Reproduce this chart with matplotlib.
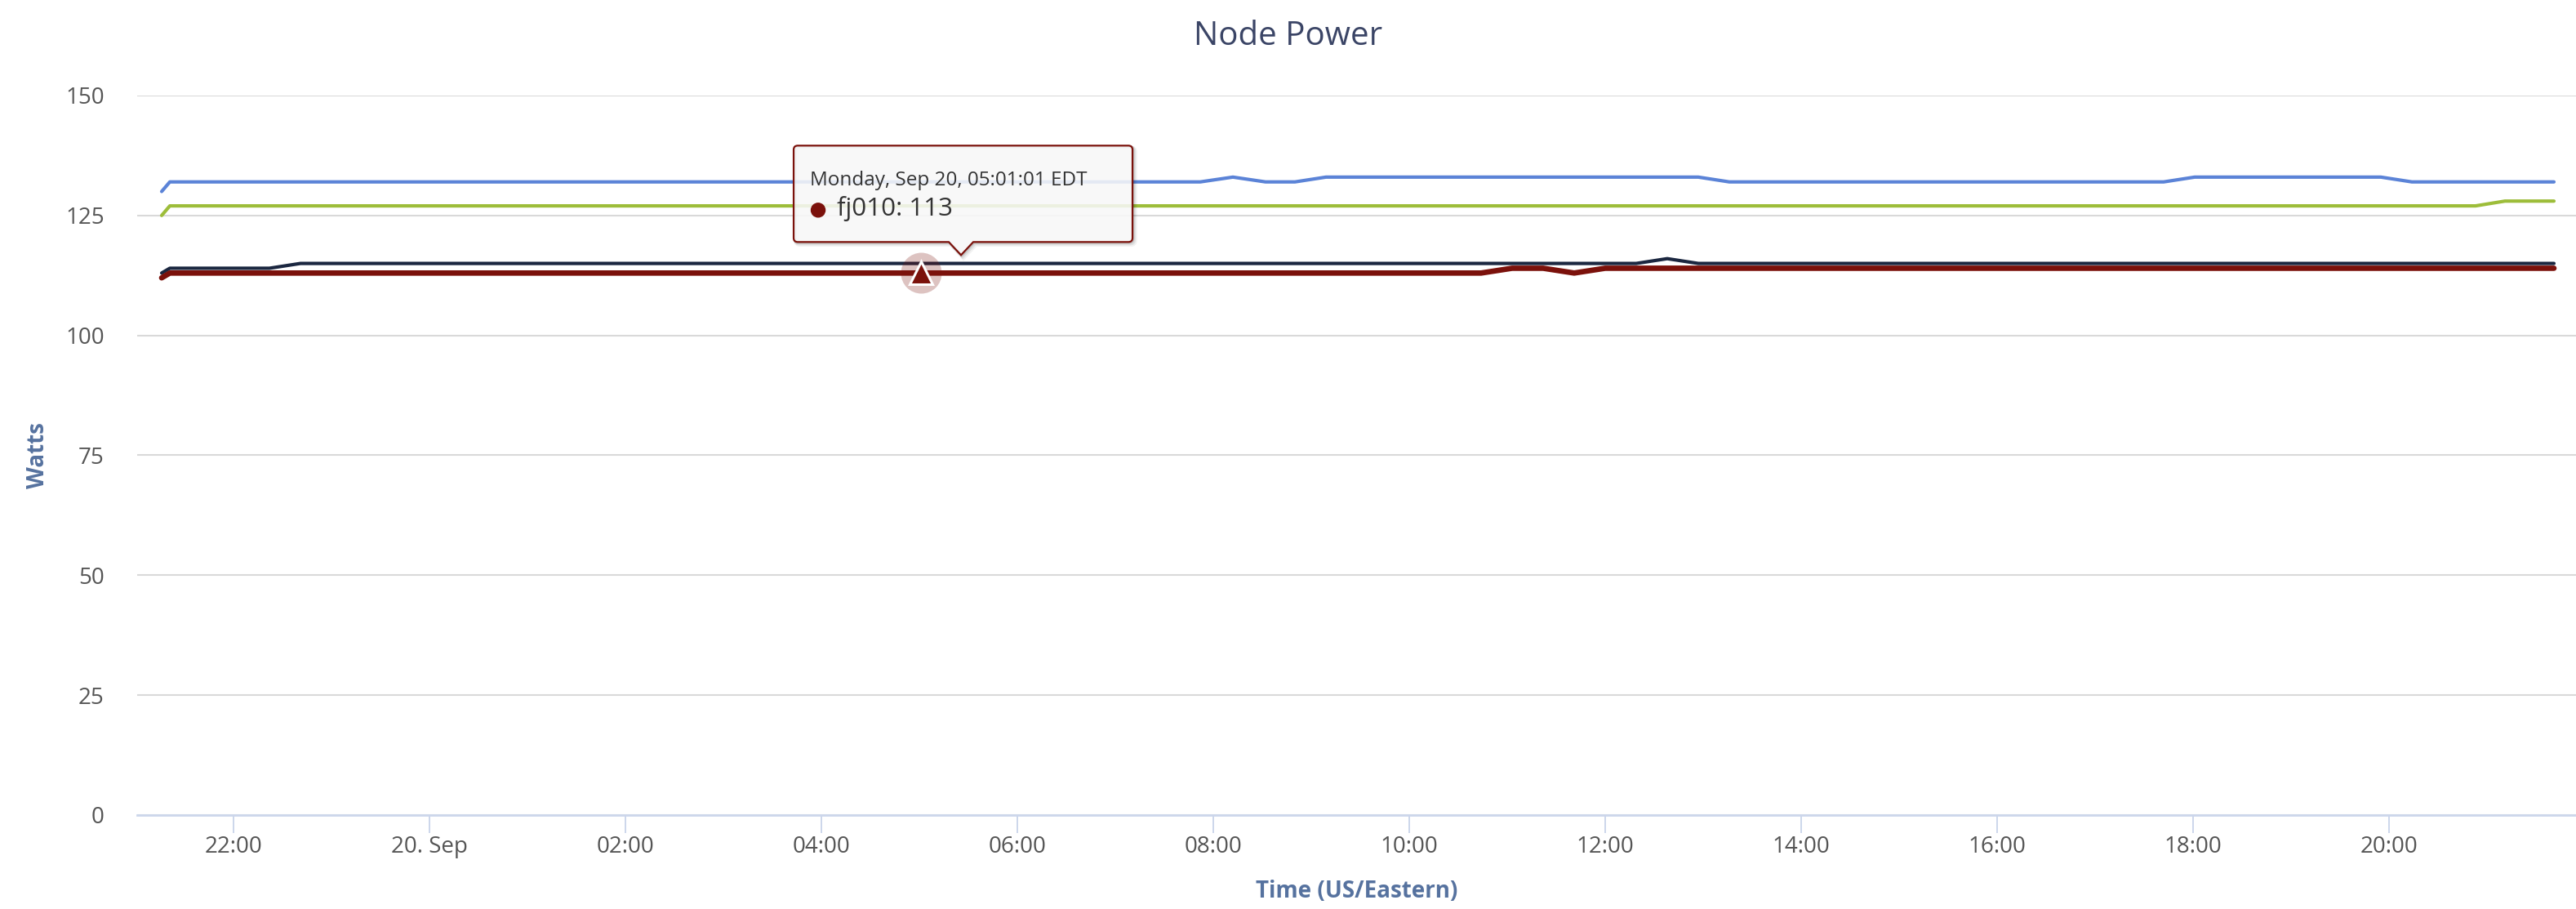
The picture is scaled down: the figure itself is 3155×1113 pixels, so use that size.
import datetime as dt
import matplotlib
matplotlib.use("Agg")
import matplotlib.pyplot as plt
import matplotlib.dates as mdates
from matplotlib.path import Path
from matplotlib.patches import PathPatch, Circle
from matplotlib.transforms import IdentityTransform, Affine2D

plt.rcParams['font.family'] = ['Open Sans', 'DejaVu Sans']

# ---------------- data (breakpoints) ----------------
D0 = dt.datetime(2021, 9, 19)
D1 = dt.datetime(2021, 9, 20)

def T(day, hm):
    h, m = hm.split(":")
    return day.replace(hour=int(h), minute=int(m))

blue_times = [T(D0, "21:16"), T(D0, "21:21"), T(D1, "07:52"), T(D1, "08:12"), T(D1, "08:32"),
              T(D1, "08:50"), T(D1, "09:09"), T(D1, "12:57"), T(D1, "13:16"), T(D1, "17:42"),
              T(D1, "18:01"), T(D1, "19:55"), T(D1, "20:14"), T(D1, "21:41")]
blue_vals = [130, 132, 132, 133, 132, 132, 133, 133, 132, 132, 133, 133, 132, 132]

green_times = [T(D0, "21:16"), T(D0, "21:21"), T(D1, "20:53"), T(D1, "21:11"), T(D1, "21:41")]
green_vals = [125, 127, 127, 128, 128]

navy_times = [T(D0, "21:16"), T(D0, "21:21"), T(D0, "22:22"), T(D0, "22:41"), T(D1, "12:19"),
              T(D1, "12:38"), T(D1, "12:57"), T(D1, "21:41")]
navy_vals = [113, 114, 114, 115, 115, 116, 115, 115]

red_times = [T(D0, "21:16"), T(D0, "21:21"), T(D1, "10:44"), T(D1, "11:03"), T(D1, "11:22"),
             T(D1, "11:41"), T(D1, "12:00"), T(D1, "21:41")]
red_vals = [112, 113, 113, 114, 114, 113, 114, 114]

tip_time = dt.datetime(2021, 9, 20, 5, 1, 1)
tip_value = 113
tip_series = "fj010"
tip_header = "Monday, Sep 20, 05:01:01 EDT"

tick_times = [T(D0, "22:00")] + [T(D1, "%02d:00" % h) for h in range(0, 21, 2)]
tick_labels = ["22:00", "20. Sep", "02:00", "04:00", "06:00", "08:00", "10:00",
               "12:00", "14:00", "16:00", "18:00", "20:00"]
y_ticks = [0, 25, 50, 75, 100, 125, 150]

x_start = dt.datetime(2021, 9, 19, 21, 1)
x_end = dt.datetime(2021, 9, 20, 21, 54, 30)

# ---------------- figure ----------------
W, H = 3155, 1113
fig = plt.figure(figsize=(W / 100, H / 100), dpi=100)
ax_l, ax_r, ax_b, ax_t = 168, 3155, 998, 117
ax = fig.add_axes([ax_l / W, (H - ax_b) / H, (ax_r - ax_l) / W, (ax_b - ax_t) / H])

C_BLUE = '#5b83d7'
C_GREEN = '#9dbd3a'
C_NAVY = '#1b2740'
C_RED = '#7b110b'

kw = dict(solid_capstyle='round', solid_joinstyle='round')
ax.plot(blue_times, blue_vals, color=C_BLUE, lw=3.0, zorder=3, **kw)
ax.plot(green_times, green_vals, color=C_GREEN, lw=3.0, zorder=3, **kw)
ax.plot(navy_times, navy_vals, color=C_NAVY, lw=3.0, zorder=3, **kw)
ax.plot(red_times, red_vals, color=C_RED, lw=4.8, zorder=4, **kw)

# hover marker
ax.plot([tip_time], [tip_value], marker='o', ms=36, color=C_RED, alpha=0.25, mew=0, zorder=5)
ax.plot([tip_time], [tip_value], marker='^', ms=20, color=C_RED, mec='white', mew=2.2, zorder=6)

ax.set_xlim(x_start, x_end)
ax.set_ylim(0, 150)
ax.set_yticks(y_ticks)
ax.set_xticks(tick_times)
ax.set_xticklabels(tick_labels)

ax.grid(axis='y', color='#d9d9d9', lw=1.5, zorder=0)
ax.set_axisbelow(True)
for s in ['top', 'right', 'left']:
    ax.spines[s].set_visible(False)
ax.spines['bottom'].set_color('#ccd6eb')
ax.spines['bottom'].set_linewidth(2.0)
ax.spines['bottom'].set_zorder(2)

ax.tick_params(axis='x', length=16, width=1.4, color='#ccd6eb', labelsize=20,
               labelcolor='#555555', pad=2)
ax.tick_params(axis='y', length=0, labelsize=20, labelcolor='#555555', pad=29)

lab_col = '#56729f'
ax.set_xlabel("Time (US/Eastern)", fontsize=20, fontweight='bold', color=lab_col, va='baseline')
ax.xaxis.set_label_coords(0.5, (ax_b - 1099) / (ax_b - ax_t))
ax.set_ylabel("Watts", fontsize=20, fontweight='bold', color=lab_col, va='center')
ax.yaxis.set_label_coords((47 - ax_l) / (ax_r - ax_l), 0.5)

fig.text(0.5, (H - 55) / H, "Node Power", ha='center', va='baseline', fontsize=29,
         color='#3b4566')

# ---------------- tooltip (anchored to hovered point) ----------------
fig.canvas.draw()
px, py = ax.transData.transform((mdates.date2num(tip_time), tip_value))
L, R, Tp, B, r = px - 156, px + 259, py + 156, py + 38, 5
verts = [(L + r, Tp), (R - r, Tp), (R, Tp), (R, Tp - r), (R, B + r), (R, B), (R - r, B),
         (px + 64, B), (px + 49, py + 22), (px + 34, B), (L + r, B), (L, B), (L, B + r),
         (L, Tp - r), (L, Tp), (L + r, Tp), (L + r, Tp)]
codes = [Path.MOVETO, Path.LINETO, Path.CURVE3, Path.CURVE3, Path.LINETO, Path.CURVE3, Path.CURVE3,
         Path.LINETO, Path.LINETO, Path.LINETO, Path.LINETO, Path.CURVE3, Path.CURVE3,
         Path.LINETO, Path.CURVE3, Path.CURVE3, Path.CLOSEPOLY]
path = Path(verts, codes)
for off, a, w in [(3, 0.05, 4.0), (2, 0.08, 3.0), (1, 0.12, 2.0)]:
    sh = PathPatch(path, facecolor='none', edgecolor='black', alpha=a, lw=w,
                   transform=Affine2D().translate(off, -off), zorder=20)
    fig.add_artist(sh)
box = PathPatch(path, facecolor=(0.972, 0.972, 0.972, 0.88), edgecolor=C_RED, lw=1.6,
                transform=IdentityTransform(), zorder=21)
fig.add_artist(box)
fig.text(px - 136, py + 107, tip_header, transform=IdentityTransform(), fontsize=17.5,
         color='#333333', va='baseline', ha='left', zorder=22)
fig.add_artist(Circle((px - 126, py + 77), 8.5, color=C_RED, transform=IdentityTransform(),
                      zorder=22))
fig.text(px - 103, py + 70, f"{tip_series}: {tip_value}", transform=IdentityTransform(),
         fontsize=22.5, color='#333333', va='baseline', ha='left', zorder=22)

fig.savefig("out.png", dpi=100)
